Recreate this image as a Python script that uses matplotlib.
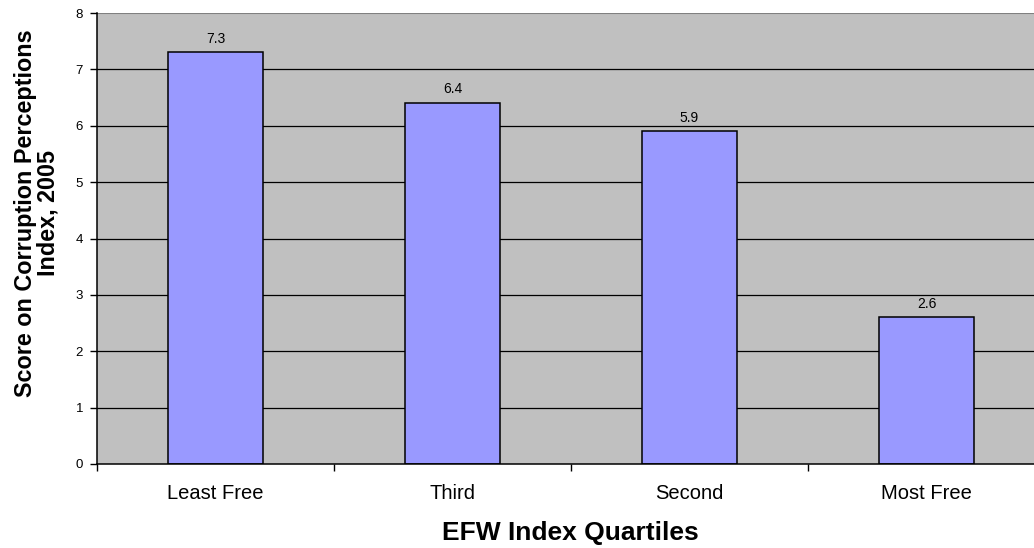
import numpy as np
import matplotlib.pyplot as plt

plt.rcParams['font.family'] = ['Liberation Sans', 'DejaVu Sans']

# EFW quartiles and their mean CPI score
quartiles = ["Least Free", "Third", "Second", "Most Free"]
cpi_scores = [7.3, 6.4, 5.9, 2.6]
y_ticks = [0, 1, 2, 3, 4, 5, 6, 7, 8]

fig = plt.figure(figsize=(10.34, 5.48), dpi=100)
W, H = 1034, 548
# plot area runs a little past the right edge of the figure
ax = fig.add_axes([97 / W, (H - 464) / H, 948 / W, 451 / H])
ax.set_facecolor("#C0C0C0")

x = np.arange(len(quartiles))
ax.set_xlim(-0.5, len(quartiles) - 0.5)
ax.set_ylim(0, 8)

for yv in y_ticks[1:-1]:
    ax.axhline(yv, color="black", lw=0.9, zorder=1)
ax.axhline(8, color="#808080", lw=1.5, zorder=1)

bars = ax.bar(x, cpi_scores, width=0.4, color="#9999FF",
              edgecolor="black", linewidth=1.1, zorder=2)
for xi, v in zip(x, cpi_scores):
    ax.text(xi, v + 0.12, f"{v:.1f}", ha="center", va="bottom", fontsize=10)

for side in ["top", "right"]:
    ax.spines[side].set_visible(False)
ax.spines["left"].set_linewidth(1.1)
ax.spines["bottom"].set_linewidth(1.1)

ax.set_yticks(y_ticks)
ax.tick_params(axis="y", labelsize=9.5, length=5, width=1, direction="out", pad=5)
ax.set_xticks(np.arange(len(quartiles) + 1) - 0.5)
ax.set_xticklabels([])
ax.tick_params(axis="x", length=5, width=1, direction="out")
for xi, lab in zip(x, quartiles):
    ax.text(xi, -0.52, lab, ha="center", va="center", fontsize=14.5)

fig.text(570 / W, 1 - 533 / H, "EFW Index Quartiles", ha="center",
         va="center", fontsize=19, fontweight="bold")
fig.text(37 / W, 1 - 213 / H, "Score on Corruption Perceptions\nIndex, 2005",
         ha="center", va="center", rotation=90, fontsize=16.8,
         fontweight="bold", linespacing=1.0)

fig.savefig("out.png", dpi=100)
